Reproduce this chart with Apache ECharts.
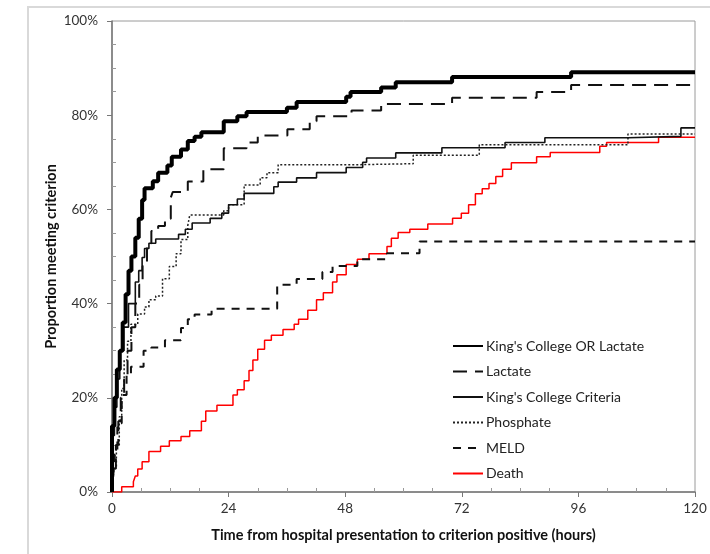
<!DOCTYPE html>
<html>
<head>
<meta charset="utf-8">
<script src="https://cdn.jsdelivr.net/npm/echarts@6/dist/echarts.min.js"></script>
<style>
  html, body { margin: 0; padding: 0; background: #fff; }
  #main { width: 710px; height: 554px; }
</style>
</head>
<body>
<div id="main"></div>
<script>
// 横轴刻度（小时）
const hourTicks = [0, 24, 48, 72, 96, 120]

// King's College OR Lactate
const kolHours = [0, 0, 0.5, 1, 1.6, 2.2, 2.8, 3.4, 4, 4.8, 5.5, 6.2, 6.7, 8.4, 9.5, 11.4, 12.3, 14.2, 15.6, 17, 18.4, 23, 25.8, 27.7, 36, 38, 48.2, 49.1, 55.4, 58.4, 70, 94.5, 120]
const kolProps = [0, 0.14, 0.2, 0.26, 0.3, 0.36, 0.42, 0.47, 0.5, 0.54, 0.58, 0.62, 0.645, 0.66, 0.678, 0.693, 0.712, 0.727, 0.745, 0.754, 0.764, 0.787, 0.798, 0.807, 0.816, 0.828, 0.839, 0.849, 0.859, 0.87, 0.881, 0.891, 0.891]

// Lactate
const lacHours = [0, 0.3, 0.8, 1.3, 1.8, 2.5, 3.2, 4, 4.8, 5.6, 6.3, 7.2, 8.1, 9.5, 10.9, 12.1, 12.5, 15.6, 18.8, 23, 27.7, 30, 36.1, 40.7, 42.1, 49.3, 55.4, 70, 87.4, 94.5, 120]
const lacProps = [0, 0.05, 0.1, 0.15, 0.2, 0.25, 0.3, 0.35, 0.4, 0.44, 0.48, 0.528, 0.554, 0.565, 0.58, 0.625, 0.637, 0.659, 0.685, 0.73, 0.742, 0.757, 0.77, 0.787, 0.798, 0.81, 0.824, 0.837, 0.849, 0.864, 0.864]

// King's College Criteria
const kccHours = [0, 0, 0.5, 1, 1.6, 2.4, 3.4, 4.8, 5.5, 6.2, 6.7, 7.6, 9, 13.7, 15.1, 16.5, 20.2, 22.6, 24, 25.8, 27.2, 33.3, 34.2, 38, 42.1, 48.2, 51.6, 52.4, 58.4, 67.9, 80.9, 89.1, 106.2, 117.1, 120]
const kccProps = [0, 0.12, 0.18, 0.24, 0.3, 0.35, 0.4, 0.446, 0.47, 0.498, 0.517, 0.528, 0.537, 0.547, 0.558, 0.571, 0.581, 0.592, 0.61, 0.622, 0.634, 0.648, 0.658, 0.667, 0.678, 0.689, 0.7, 0.709, 0.72, 0.731, 0.742, 0.752, 0.755, 0.773, 0.773]

// Phosphate
const phoHours = [0, 0.4, 0.9, 1.5, 2, 2.5, 3.2, 3.9, 5.3, 6.7, 7.6, 9, 10.4, 11.8, 13.2, 14.2, 15.6, 16, 23, 24, 27.2, 30.5, 31.9, 34.2, 51, 62, 75.6, 106.2, 120]
const phoProps = [0, 0.05, 0.1, 0.16, 0.22, 0.28, 0.32, 0.356, 0.378, 0.393, 0.408, 0.416, 0.453, 0.479, 0.506, 0.536, 0.566, 0.588, 0.597, 0.61, 0.652, 0.667, 0.678, 0.695, 0.697, 0.715, 0.737, 0.76, 0.76]

// MELD
const meldHours = [0, 0.3, 0.6, 1.1, 2, 3, 3.9, 6.5, 8.1, 10.9, 14.2, 15.6, 17, 20.5, 34, 38, 43.3, 45.4, 50.5, 56.6, 63.3, 120]
const meldProps = [0, 0.04, 0.08, 0.146, 0.206, 0.251, 0.266, 0.3, 0.307, 0.322, 0.348, 0.367, 0.377, 0.389, 0.44, 0.452, 0.467, 0.48, 0.494, 0.507, 0.532, 0.532]

// Death
const deathHours = [0, 2, 4.4, 4.8, 5.3, 6.2, 7.6, 10, 11.8, 14.2, 16, 18.4, 19.3, 21.6, 24.9, 25.8, 27.2, 28.2, 29, 30, 31.4, 32.8, 35.2, 37.5, 38.4, 40.3, 42.1, 43.5, 45.4, 46.3, 48.2, 50.5, 52.9, 56.6, 57.5, 58.9, 61.3, 65, 70.1, 71.9, 73.4, 74.8, 76.2, 77.6, 79, 80.4, 82.2, 87.4, 90.2, 100.4, 101.8, 112.5, 120]
const deathProps = [0, 0.011, 0.022, 0.034, 0.049, 0.064, 0.086, 0.097, 0.109, 0.118, 0.13, 0.15, 0.172, 0.184, 0.206, 0.217, 0.236, 0.258, 0.28, 0.303, 0.322, 0.333, 0.345, 0.356, 0.367, 0.386, 0.408, 0.423, 0.446, 0.461, 0.483, 0.494, 0.506, 0.521, 0.539, 0.551, 0.558, 0.569, 0.581, 0.592, 0.61, 0.633, 0.644, 0.655, 0.67, 0.685, 0.699, 0.712, 0.721, 0.734, 0.742, 0.753, 0.753]

const zip = (xs, ys) => xs.map((x, i) => [x, ys[i]])

const chart = echarts.init(document.getElementById('main'))

const stepLine = (name, xs, ys, lineStyle, z) => ({
  name: name,
  type: 'line',
  step: 'end',
  symbol: 'none',
  z: z,
  data: zip(xs, ys),
  lineStyle: lineStyle,
  itemStyle: { color: lineStyle.color }
})

const option = {
  animation: false,
  textStyle: { fontFamily: 'Lato' },
  graphic: [
    {
      type: 'rect',
      shape: { x: 28, y: 7, width: 700, height: 600 },
      style: { fill: 'none', stroke: '#d9d9d9', lineWidth: 2 }
    }
  ],
  grid: {
    left: 112,
    right: 15,
    top: 21,
    bottom: 62,
    show: true,
    borderColor: '#9a9a9a',
    borderWidth: 1
  },
  legend: {
    orient: 'vertical',
    left: 447,
    top: 334,
    itemWidth: 30,
    itemHeight: 14,
    itemGap: 11.5,
    itemStyle: { opacity: 0 },
    textStyle: { fontSize: 14, color: '#222', fontFamily: 'Lato', padding: [0, 0, 0, -2] },
    data: ["King's College OR Lactate", 'Lactate', "King's College Criteria", 'Phosphate', 'MELD', 'Death']
  },
  xAxis: {
    type: 'value',
    min: 0,
    max: 120,
    interval: 24,
    name: 'Time from hospital presentation to criterion positive (hours)',
    nameLocation: 'middle',
    nameGap: 36,
    nameTextStyle: { fontSize: 14.5, fontWeight: 'bold', color: '#111' },
    axisLine: { lineStyle: { color: '#777', width: 1.5 } },
    axisTick: { show: true, length: 5, lineStyle: { color: '#777' } },
    minorTick: { show: true, splitNumber: 4, length: -4, lineStyle: { color: '#999' } },
    axisLabel: { fontSize: 13.5, color: '#333', margin: 10, customValues: hourTicks },
    splitLine: { show: false }
  },
  yAxis: {
    type: 'value',
    min: 0,
    max: 1,
    interval: 0.2,
    name: 'Proportion meeting criterion',
    nameLocation: 'middle',
    nameGap: 53,
    nameMoveOverlap: false,
    nameTextStyle: { fontSize: 14.5, fontWeight: 'bold', color: '#111' },
    axisLine: { lineStyle: { color: '#777', width: 1.5 } },
    axisTick: { show: true, length: 5, lineStyle: { color: '#777' } },
    minorTick: { show: true, splitNumber: 4, length: -4, lineStyle: { color: '#999' } },
    axisLabel: {
      fontSize: 13.5,
      color: '#333',
      margin: 14,
      formatter: (v) => Math.round(v * 100) + '%'
    },
    splitLine: { show: false }
  },
  series: [
    stepLine("King's College OR Lactate", kolHours, kolProps, { color: '#000', width: 4 }, 6),
    stepLine('Lactate', lacHours, lacProps, { color: '#111', width: 2, type: [14, 8] }, 5),
    stepLine("King's College Criteria", kccHours, kccProps, { color: '#111', width: 1.6 }, 4),
    stepLine('Phosphate', phoHours, phoProps, { color: '#222', width: 1.5, type: [2, 2] }, 3),
    stepLine('MELD', meldHours, meldProps, { color: '#111', width: 2, type: [8, 7] }, 2),
    stepLine('Death', deathHours, deathProps, { color: '#ff0000', width: 1.5 }, 1)
  ]
}

chart.setOption(option)
</script>
</body>
</html>
